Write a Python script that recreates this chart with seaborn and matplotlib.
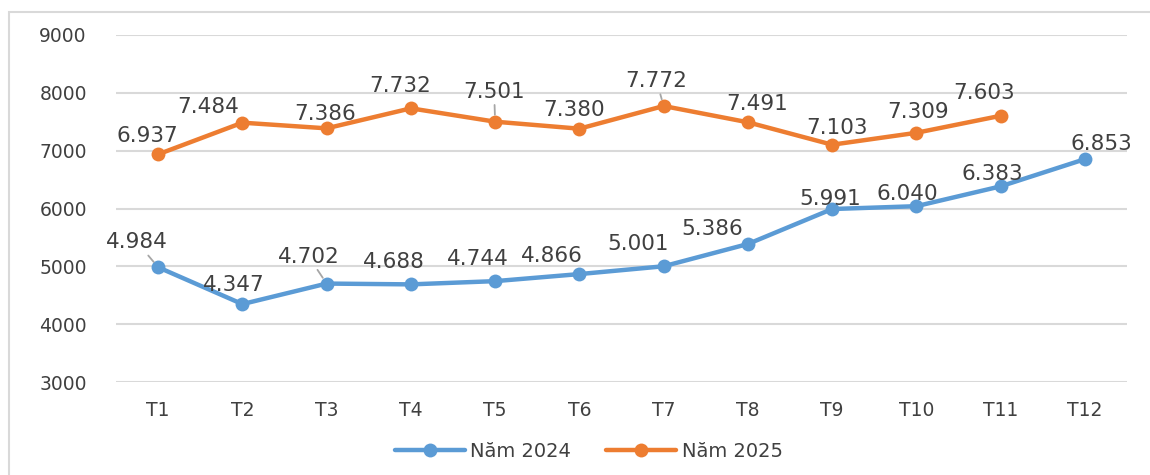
import numpy as np
import pandas as pd
import matplotlib.pyplot as plt
import seaborn as sns
from matplotlib.patches import Rectangle

# Chart data
months = ['T1', 'T2', 'T3', 'T4', 'T5', 'T6', 'T7', 'T8', 'T9', 'T10', 'T11', 'T12']
values_2024 = [4984, 4347, 4702, 4688, 4744, 4866, 5001, 5386, 5991, 6040, 6383, 6853]
values_2025 = [6937, 7484, 7386, 7732, 7501, 7380, 7772, 7491, 7103, 7309, 7603]
series_names = ['Năm 2024', 'Năm 2025']

# label placement (pixel offsets from each point), leader line flags
offsets_2024 = [(-21, 25), (-9, 19), (-18, 27), (-17, 22), (-17, 22), (-27, 18),
                (-26, 22), (-36, 15), (-2, 10), (-9, 12), (-8, 12), (16, 15)]
offsets_2025 = [(-11, 18), (-34, 16), (-1, 14), (-11, 22), (-1, 30), (-5, 19),
                (-7, 25), (9, 18), (5, 17), (2, 21), (-17, 23)]
leaders_2024 = [0, 2]
leaders_2025 = [4, 6]

BLUE = '#5B9BD5'
ORANGE = '#ED7D31'
TEXT = '#404040'
GRID = '#D9D9D9'

sns.set_style('white')
plt.rcParams['font.family'] = ['DejaVu Sans']

df = pd.concat([
    pd.DataFrame({'x': np.arange(len(values_2024)), 'value': values_2024, 'series': series_names[0]}),
    pd.DataFrame({'x': np.arange(len(values_2025)), 'value': values_2025, 'series': series_names[1]}),
])

fig = plt.figure(figsize=(11.5, 4.75), dpi=100)
ax = fig.add_axes([116 / 1150, 1 - 382 / 475, (1127 - 116) / 1150, (382 - 35) / 475])

sns.lineplot(data=df, x='x', y='value', hue='series', palette=[BLUE, ORANGE],
             marker='o', markersize=10, markeredgewidth=0, linewidth=3.2,
             ax=ax, legend=True)

ax.set_xlim(-0.5, len(months) - 0.5)
ax.set_ylim(3000, 9000)
ax.set_yticks(range(3000, 9001, 1000))
ax.set_xticks(range(len(months)))
ax.set_xticklabels(months)
ax.set_xlabel('')
ax.set_ylabel('')
ax.grid(axis='y', color=GRID, linewidth=1.5)
ax.set_axisbelow(True)
for s in ax.spines.values():
    s.set_visible(False)
ax.tick_params(axis='both', length=0, labelsize=13.5, colors=TEXT)
ax.tick_params(axis='y', pad=21)
ax.tick_params(axis='x', pad=14)
for line in ax.lines:
    line.set_clip_on(False)


def add_labels(values, offsets, leaders):
    for i, v in enumerate(values):
        dx, dy = offsets[i]
        txt = f'{v:,}'.replace(',', '.')
        props = None
        if i in leaders:
            props = dict(arrowstyle='-', color='#A6A6A6', lw=1.3, shrinkA=0, shrinkB=5)
        ax.annotate(txt, (i, v), xytext=(dx, dy), textcoords='offset pixels',
                    ha='center', va='center', fontsize=15.5, color=TEXT,
                    arrowprops=props, zorder=5)


add_labels(values_2024, offsets_2024, leaders_2024)
add_labels(values_2025, offsets_2025, leaders_2025)

# legend below the chart
handles, labels = ax.get_legend_handles_labels()
ax.get_legend().remove()
fig.legend(handles, labels, loc='center', bbox_to_anchor=(0.512, 0.05), ncol=2,
           frameon=False, fontsize=14, handlelength=3.6, handletextpad=0.3,
           columnspacing=1.8, labelcolor=TEXT)

# outer chart border
fig.add_artist(Rectangle((9 / 1150, -0.2), 1.2, 1.2 - 12 / 475, transform=fig.transFigure,
                         fill=False, edgecolor=GRID, linewidth=1.5))

fig.savefig('out.png', dpi=100)
